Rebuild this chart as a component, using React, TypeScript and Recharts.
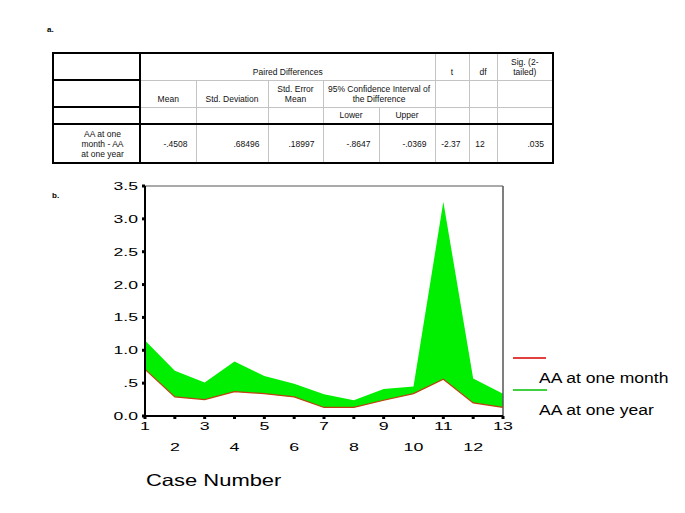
import React from "react";
import { ComposedChart, Area, Line, XAxis, YAxis, ReferenceLine, Legend } from "recharts";

const caseNumbers = [1, 2, 3, 4, 5, 6, 7, 8, 9, 10, 11, 12, 13];
const aaOneMonth = [0.71, 0.29, 0.25, 0.37, 0.34, 0.29, 0.13, 0.13, 0.24, 0.34, 0.56, 0.2, 0.13];
const aaOneYear = [1.15, 0.69, 0.51, 0.83, 0.61, 0.49, 0.33, 0.24, 0.41, 0.45, 3.26, 0.57, 0.34];
const yTicks = [0, 0.5, 1, 1.5, 2, 2.5, 3, 3.5];

const tableHeadTop = ["Paired Differences", "t", "df", "Sig. (2-tailed)"];
const tableHeadMid = ["Mean", "Std. Deviation", "Std. Error Mean", "95% Confidence Interval of the Difference"];
const tableHeadLow = ["Lower", "Upper"];
const rowLabelLines = ["AA at one", "month - AA", "at one year"];
const rowValues = ["-.4508", ".68496", ".18997", "-.8647", "-.0369", "-2.37", "12", ".035"];
const colWidths = [87, 56, 72, 55, 56, 56, 34, 28, 56];

const data = caseNumbers.map((c, i) => ({
  case: c,
  month: aaOneMonth[i],
  year: aaOneYear[i],
}));

const FONT = "Arial, 'Liberation Sans', Helvetica, sans-serif";
const THICK = "2px solid #000";
const THIN = "1px solid #c4c4c4";

const fmtY = (v: number) => (v === 0 ? "0.0" : v === 0.5 ? ".5" : v.toFixed(1));

// the original picture is stretched sideways, so the text is too
const XTick = (props: any) => {
  const { x, y, payload } = props;
  const even = payload.value % 2 === 0;
  return (
    <text
      transform={`translate(${x},${y + (even ? 30 : 9)}) scale(1.55,1)`}
      textAnchor="middle"
      fill="#000"
      fontSize={11.5}
      fontFamily={FONT}
    >
      {payload.value}
    </text>
  );
};

const YTick = (props: any) => {
  const { x, y, payload } = props;
  return (
    <text
      transform={`translate(${x - 2},${y + 4}) scale(1.6,1)`}
      textAnchor="end"
      fill="#000"
      fontSize={11}
      fontFamily={FONT}
    >
      {fmtY(payload.value)}
    </text>
  );
};

const stretched = (sx: number): React.CSSProperties => ({
  transform: `scaleX(${sx})`,
  transformOrigin: "left center",
  whiteSpace: "nowrap",
});

const LegendBox = () => (
  <div style={{ position: "absolute", left: 0, top: 0, fontFamily: FONT }}>
    <div style={{ position: "absolute", left: 513, top: 357, width: 33, height: 1.5, background: "#e04040" }} />
    <div style={{ position: "absolute", left: 539, top: 371, fontSize: 14, lineHeight: "14px", ...stretched(1.25) }}>
      AA at one month
    </div>
    <div style={{ position: "absolute", left: 513, top: 389, width: 34, height: 1.5, background: "#40d040" }} />
    <div style={{ position: "absolute", left: 539, top: 403, fontSize: 14, lineHeight: "14px", ...stretched(1.25) }}>
      AA at one year
    </div>
  </div>
);

const cell = (extra: React.CSSProperties = {}): React.CSSProperties => ({
  border: THIN,
  padding: "0 3px 3px 3px",
  textAlign: "center",
  verticalAlign: "bottom",
  ...extra,
});

const StatsTable = () => (
  <table
    style={{
      position: "absolute",
      left: 52,
      top: 52,
      borderCollapse: "collapse",
      tableLayout: "fixed",
      width: 500,
      fontFamily: FONT,
      fontSize: 8.5,
      lineHeight: "10px",
      color: "#111",
      border: THICK,
    }}
  >
    <colgroup>
      {colWidths.map((w, i) => (
        <col key={i} style={{ width: w }} />
      ))}
    </colgroup>
    <tbody>
      <tr style={{ height: 27 }}>
        <td style={cell({ borderRight: THICK, borderBottom: THICK })} />
        <td colSpan={5} style={cell()}>{tableHeadTop[0]}</td>
        <td style={cell()}>{tableHeadTop[1]}</td>
        <td style={cell()}>{tableHeadTop[2]}</td>
        <td style={cell({ padding: "0 10px 3px 10px" })}>{tableHeadTop[3]}</td>
      </tr>
      <tr style={{ height: 27 }}>
        <td style={cell({ borderRight: THICK, borderBottom: THICK })} />
        <td style={cell()}>{tableHeadMid[0]}</td>
        <td style={cell()}>{tableHeadMid[1]}</td>
        <td style={cell({ padding: "0 8px 3px 8px" })}>{tableHeadMid[2]}</td>
        <td colSpan={2} style={cell({ padding: "0 2px 3px 2px" })}>{tableHeadMid[3]}</td>
        <td style={cell()} />
        <td style={cell()} />
        <td style={cell()} />
      </tr>
      <tr style={{ height: 17 }}>
        <td style={cell({ borderRight: THICK, borderBottom: THICK })} />
        <td style={cell({ borderBottom: THICK })} />
        <td style={cell({ borderBottom: THICK })} />
        <td style={cell({ borderBottom: THICK })} />
        <td style={cell({ borderBottom: THICK })}>{tableHeadLow[0]}</td>
        <td style={cell({ borderBottom: THICK })}>{tableHeadLow[1]}</td>
        <td style={cell({ borderBottom: THICK })} />
        <td style={cell({ borderBottom: THICK })} />
        <td style={cell({ borderBottom: THICK })} />
      </tr>
      <tr style={{ height: 39 }}>
        <td style={cell({ borderRight: THICK, verticalAlign: "middle", padding: "0 2px 0 14px" })}>
          {rowLabelLines.map((l, i) => (
            <div key={i}>{l}</div>
          ))}
        </td>
        {rowValues.map((v, i) => (
          <td
            key={i}
            style={cell({
              textAlign: i === 6 ? "center" : "right",
              verticalAlign: "middle",
              padding: "0 8px 0 2px",
            })}
          >
            {v}
          </td>
        ))}
      </tr>
    </tbody>
  </table>
);

export default function App() {
  return (
    <div
      style={{
        position: "absolute",
        left: 0,
        top: 0,
        width: 685,
        height: 513,
        background: "#fff",
        fontFamily: FONT,
        overflow: "hidden",
      }}
    >
      <div style={{ position: "absolute", left: 47, top: 25, fontSize: 8, fontWeight: "bold" }}>a.</div>
      <div style={{ position: "absolute", left: 52, top: 191, fontSize: 8, fontWeight: "bold" }}>b.</div>
      <StatsTable />
      <div style={{ position: "absolute", left: 0, top: 0 }}>
        <ComposedChart
          width={685}
          height={513}
          data={data}
          margin={{ top: 186, right: 182, bottom: 37, left: 105 }}
        >
          <XAxis
            dataKey="case"
            type="number"
            domain={[1, 13]}
            ticks={caseNumbers}
            interval={0}
            axisLine={{ stroke: "#000", strokeWidth: 2 }}
            tickLine={{ stroke: "#000", strokeWidth: 3 }}
            tickSize={3}
            tick={<XTick />}
            height={60}
          />
          <YAxis
            type="number"
            domain={[0, 3.5]}
            ticks={yTicks}
            interval={0}
            axisLine={{ stroke: "#000", strokeWidth: 2 }}
            tickLine={{ stroke: "#000", strokeWidth: 3 }}
            tickSize={3}
            width={40}
            tick={<YTick />}
          />
          <ReferenceLine y={3.5} stroke="#555" strokeWidth={1} />
          <ReferenceLine x={13} stroke="#555" strokeWidth={1.5} />
          <Area
            type="linear"
            dataKey={(d: any) => [d.month, d.year]}
            name="AA at one year"
            fill="#00ee00"
            fillOpacity={1}
            stroke="none"
            isAnimationActive={false}
          />
          <Line
            type="linear"
            dataKey="month"
            name="AA at one month"
            stroke="#c04010"
            strokeWidth={1.2}
            dot={false}
            isAnimationActive={false}
          />
          <Legend content={() => null} />
        </ComposedChart>
      </div>
      <LegendBox />
      <div
        style={{
          position: "absolute",
          left: 146,
          top: 472,
          fontSize: 16.5,
          lineHeight: "17px",
          ...stretched(1.33),
        }}
      >
        Case Number
      </div>
    </div>
  );
}
